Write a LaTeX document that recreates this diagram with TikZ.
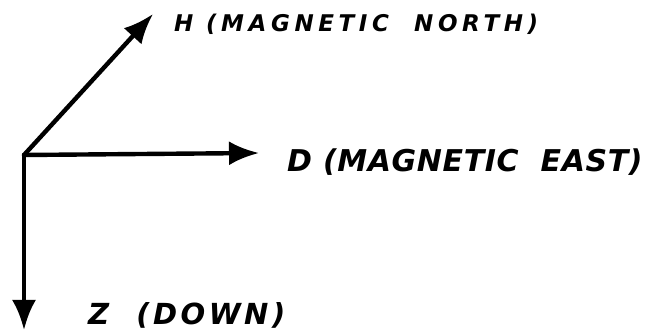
\documentclass[tikz,border=0pt]{standalone}
\usepackage{fontspec}
\setmainfont{DejaVu Sans}
\usetikzlibrary{arrows.meta}
\begin{document}
\begin{tikzpicture}[x=1pt,y=-1pt,
  axis/.style={line width=4.4pt,line cap=round,-{Latex[length=30pt,width=24pt]}},
  lbl/.style={anchor=base west,inner sep=0pt}]
\useasboundingbox (0,0) rectangle (649,331);
\coordinate (o) at (24,155);
\coordinate (h) at (153,14);
\coordinate (d) at (259,153);
\coordinate (z) at (24,330);
\draw[axis] (o) -- (h);
\draw[axis] (o) -- (d);
\draw[axis] (o) -- (z);
\node[lbl,font=\bfseries\itshape\fontsize{23}{25}\selectfont\addfontfeatures{LetterSpace=20}] (ht) at (174,32) {H (MAGNETIC\ \ NORTH)};
\node[lbl,font=\bfseries\itshape\fontsize{30}{32}\selectfont\addfontfeatures{LetterSpace=2}] (dt) at (287,172) {D (MAGNETIC\ \ EAST)};
\node[lbl,font=\bfseries\itshape\fontsize{29}{32}\selectfont\addfontfeatures{LetterSpace=12}] (zt) at (88,325) {Z\ \ (DOWN)};
\end{tikzpicture}
\end{document}
